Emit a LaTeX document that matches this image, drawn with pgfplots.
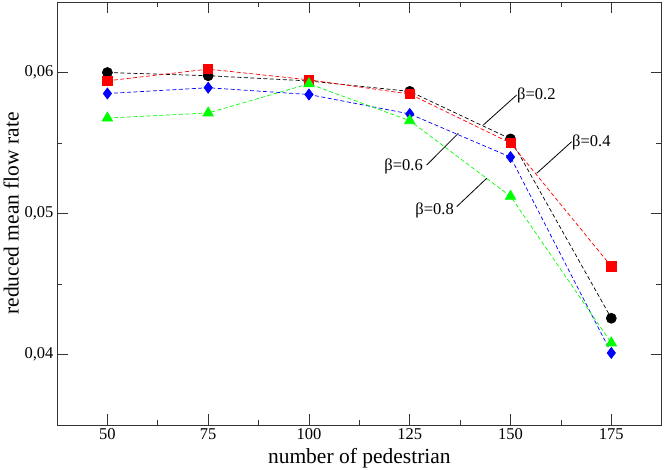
\documentclass[border=0pt]{standalone}
\usepackage{fontspec}
\setmainfont{Liberation Serif}
\usepackage{pgfplots}
\pgfplotsset{compat=1.18}
\begin{document}
\begin{tikzpicture}
\begin{axis}[
  at={(0,0)}, anchor=south west,
  scale only axis, width=604.7bp, height=423bp,
  xmin=37.5, xmax=187.5, ymin=0.035, ymax=0.065,
  xtick={50,75,100,125,150,175},
  ytick={0.04,0.05,0.06},
  minor x tick num=1, minor y tick num=1,
  tick align=inside,
  major tick length=11bp, minor tick length=5.5bp,
  tick style={line width=0.8bp, black!80},
  axis line style={line width=0.9bp, black!80},
  /pgf/number format/assume math mode=true,
  xticklabels={50,75,100,125,150,175},
  yticklabels={{0,04},{0,05},{0,06}},
  scaled y ticks=false,
  tick label style={font=\fontsize{16.5bp}{18bp}\selectfont},
  label style={font=\fontsize{21.5bp}{24bp}\selectfont},
  xlabel={number of pedestrian},
  ylabel={reduced mean flow rate},
  xlabel style={at={(axis description cs:0.5,-0.078)}, anchor=center},
  ylabel style={at={(axis description cs:-0.076,0.5)}, anchor=center},
  every axis plot/.append style={line width=0.7bp, dash pattern=on 4bp off 2.5bp},
]
\addplot[black, mark=*, mark size=5bp, mark options={solid, fill=black}]
  coordinates {(50,0.0600) (75,0.05977) (100,0.0594) (125,0.05866) (150,0.05529) (175,0.04257)};
\addplot[red, mark=square*, mark size=4.6bp, mark options={solid, fill=red}]
  coordinates {(50,0.05941) (75,0.06024) (100,0.05948) (125,0.05847) (150,0.0550) (175,0.04625)};
\addplot[blue, mark=diamond*, mark size=5.5bp, mark options={solid, fill=blue}]
  coordinates {(50,0.05851) (75,0.05892) (100,0.05844) (125,0.05706) (150,0.0540) (175,0.04011)};
\addplot[green, mark=triangle*, mark size=6bp, mark options={solid, fill=green}]
  coordinates {(50,0.05677) (75,0.05713) (100,0.0592) (125,0.05658) (150,0.05122) (175,0.04082)};
\draw[line width=0.8bp] (axis cs:151.53,0.058404) -- (axis cs:143.25,0.056277);
\draw[line width=0.8bp] (axis cs:165.17,0.055092) -- (axis cs:156.49,0.052851);
\draw[line width=0.8bp] (axis cs:129.21,0.05344) -- (axis cs:137.05,0.055688);
\draw[line width=0.8bp] (axis cs:136.65,0.050482) -- (axis cs:144.09,0.052496);
\node[anchor=west, inner sep=0pt, font=\fontsize{16.5bp}{18bp}\selectfont] at (axis cs:151.6,0.058404) {β=0.2};
\node[anchor=west, inner sep=0pt, font=\fontsize{16.5bp}{18bp}\selectfont] at (axis cs:165.25,0.055022) {β=0.4};
\node[anchor=east, inner sep=0pt, font=\fontsize{16.5bp}{18bp}\selectfont] at (axis cs:128.29,0.053319) {β=0.6};
\node[anchor=east, inner sep=0pt, font=\fontsize{16.5bp}{18bp}\selectfont] at (axis cs:135.98,0.050248) {β=0.8};
\end{axis}
\pgfresetboundingbox
\path (-57bp,-45bp) rectangle (607bp,425bp);
\end{tikzpicture}
\end{document}
